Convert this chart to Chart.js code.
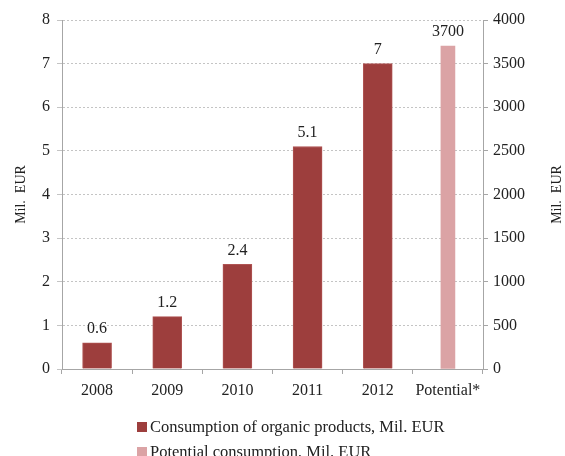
<!DOCTYPE html>
<html>
<head>
<meta charset="utf-8">
<script src="https://cdn.jsdelivr.net/npm/chart.js@4.4.1/dist/chart.umd.min.js"></script>
<style>
  html, body { margin: 0; padding: 0; background: #fff; }
  #wrap { position: relative; width: 565px; height: 456px; overflow: hidden; }
  canvas { position: absolute; left: 0; top: 0; }
  .leg { position: absolute; left: 137px; font-family: "Liberation Serif", "Times New Roman", serif; font-size: 16.5px; color: #222; white-space: nowrap; line-height: 19px; }
  .leg span.box { display: inline-block; width: 10px; height: 10px; margin-right: 3px; vertical-align: 0px; }
</style>
</head>
<body>
<div id="wrap">
  <canvas id="c" width="565" height="456"></canvas>
  <div class="leg" id="leg1" style="top:417px;"><span class="box"></span><span class="t"></span></div>
  <div class="leg" id="leg2" style="top:442px;"><span class="box"></span><span class="t"></span></div>
</div>
<script>
const categories = ['2008', '2009', '2010', '2011', '2012', 'Potential*'];
const consumption = [0.6, 1.2, 2.4, 5.1, 7, null];
const potential = [null, null, null, null, null, 3700];
const leftTicks = [0, 1, 2, 3, 4, 5, 6, 7, 8];
const rightTicks = [0, 500, 1000, 1500, 2000, 2500, 3000, 3500, 4000];
const seriesNames = ['Consumption of organic products, Mil. EUR', 'Potential consumption, Mil. EUR'];
const axisTitle = 'Mil.  EUR';

const darkRed = '#9d3e3d';
const pink = '#dba3a5';
const serif = '"Liberation Serif", "Times New Roman", serif';

const valueLabels = {
  id: 'valueLabels',
  afterDatasetsDraw(chart) {
    const ctx = chart.ctx;
    ctx.save();
    ctx.font = '16px ' + serif;
    ctx.fillStyle = '#222';
    ctx.textAlign = 'center';
    ctx.textBaseline = 'bottom';
    chart.data.datasets.forEach((ds, i) => {
      const meta = chart.getDatasetMeta(i);
      meta.data.forEach((el, j) => {
        const v = ds.data[j];
        if (v === null || v === undefined) return;
        ctx.fillText(String(v), el.x, el.y - 6);
      });
    });
    ctx.restore();
  }
};

const axisTitles = {
  id: 'axisTitles',
  afterDraw(chart) {
    const ctx = chart.ctx;
    const a = chart.chartArea;
    const cy = (a.top + a.bottom) / 2;
    ctx.save();
    ctx.font = '14px ' + serif;
    ctx.fillStyle = '#222';
    ctx.textAlign = 'center';
    ctx.textBaseline = 'middle';
    [21, 557].forEach(x => {
      ctx.save();
      ctx.translate(x, cy);
      ctx.rotate(-Math.PI / 2);
      ctx.fillText(axisTitle, 0, 0);
      ctx.restore();
    });
    ctx.restore();
  }
};

new Chart(document.getElementById('c'), {
  type: 'bar',
  data: {
    labels: categories,
    datasets: [
      { label: seriesNames[0], data: consumption, yAxisID: 'y', backgroundColor: darkRed,
        borderColor: '#b05453', borderWidth: 1, barThickness: 29, grouped: false },
      { label: seriesNames[1], data: potential, yAxisID: 'y1', backgroundColor: pink,
        borderColor: pink, borderWidth: 0, barThickness: 14, grouped: false }
    ]
  },
  plugins: [valueLabels, axisTitles],
  options: {
    responsive: false,
    animation: false,
    devicePixelRatio: 1,
    layout: { padding: { top: 20, left: 0, right: 0, bottom: 0 } },
    plugins: { legend: { display: false }, tooltip: { enabled: false } },
    scales: {
      x: {
        offset: true,
        grid: { display: true, offset: true, drawOnChartArea: false, drawTicks: true, tickLength: 5, color: '#a6a6a6' },
        border: { display: true, color: '#a6a6a6', width: 1 },
        ticks: { font: { family: serif, size: 16 }, color: '#222', padding: 7, maxRotation: 0, autoSkip: false },
        afterFit(s) { s.height = 87; }
      },
      y: {
        position: 'left',
        min: 0, max: 8,
        afterBuildTicks(s) { s.ticks = leftTicks.map(v => ({ value: v })); },
        grid: { color: '#c4c4c4', lineWidth: 1, drawTicks: true, tickLength: 5 },
        border: { display: true, color: '#a6a6a6', width: 1, dash: [2, 2] },
        ticks: { font: { family: serif, size: 16 }, color: '#222', padding: 7, callback: v => String(v) },
        afterFit(s) { s.width = 62; }
      },
      y1: {
        position: 'right',
        min: 0, max: 4000,
        afterBuildTicks(s) { s.ticks = rightTicks.map(v => ({ value: v })); },
        grid: { drawOnChartArea: false, drawTicks: true, tickLength: 5, color: '#a6a6a6' },
        border: { display: true, color: '#a6a6a6', width: 1 },
        ticks: { font: { family: serif, size: 16 }, color: '#222', padding: 5, callback: v => String(v) },
        afterFit(s) { s.width = 82; }
      }
    }
  }
});

const leg1 = document.getElementById('leg1');
leg1.querySelector('.box').style.background = darkRed;
leg1.querySelector('.t').textContent = seriesNames[0];
const leg2 = document.getElementById('leg2');
leg2.querySelector('.box').style.background = pink;
leg2.querySelector('.t').textContent = seriesNames[1];
</script>
</body>
</html>
